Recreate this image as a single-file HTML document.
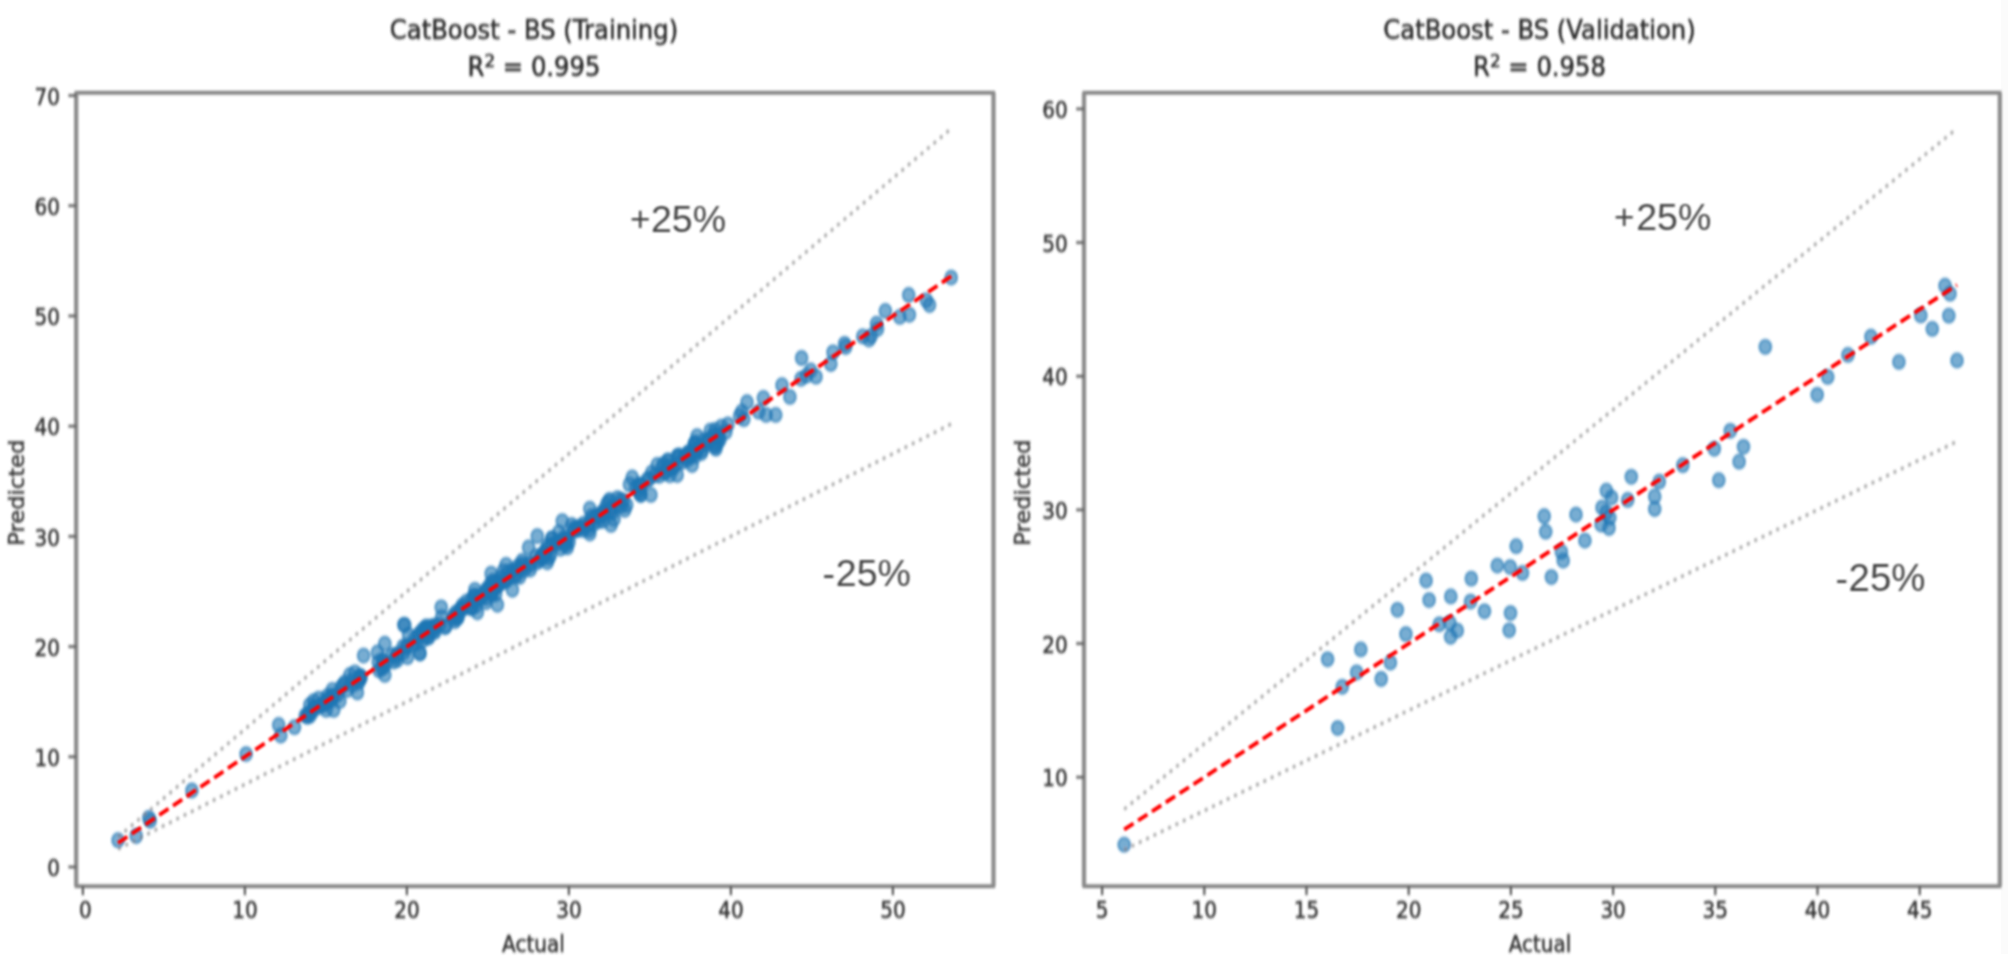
<!DOCTYPE html>
<html lang="en"><head><meta charset="utf-8"><title>CatBoost - BS</title>
<style>
html,body{margin:0;padding:0;background:#fff;}
body{width:2008px;height:961px;overflow:hidden;}
svg{display:block;}
.t10{font-family:"DejaVu Sans","Liberation Sans",sans-serif;font-size:10px;fill:#303030;stroke:#303030;stroke-width:0.22;}
.t12{font-family:"DejaVu Sans","Liberation Sans",sans-serif;font-size:12.15px;fill:#2c2c2c;stroke:#2c2c2c;stroke-width:0.27;}
.ann{font-family:"Liberation Sans",Arial,sans-serif;font-size:37.5px;fill:#444;}
.dot{fill:none;stroke:#808080;stroke-opacity:0.72;stroke-width:1.4;stroke-dasharray:1.5 2.475;}
.red{fill:none;stroke:#ff0000;stroke-width:1.75;stroke-dasharray:5.35 2.6;}
.pts ellipse{fill:#1f77b4;fill-opacity:0.6;stroke:#1f77b4;stroke-opacity:0.6;stroke-width:1;}
</style></head>
<body>
<svg width="2008" height="961" viewBox="0 0 2008 961">
<defs>
<filter id="soft" x="-2%" y="-2%" width="104%" height="104%" filterUnits="objectBoundingBox">
<feGaussianBlur stdDeviation="1.2 1.4"/>
</filter>
<filter id="soft3" x="-2%" y="-2%" width="104%" height="104%" filterUnits="objectBoundingBox">
<feGaussianBlur stdDeviation="0.9 1.0"/>
</filter>
<filter id="soft2" x="-2%" y="-2%" width="104%" height="104%" filterUnits="objectBoundingBox">
<feGaussianBlur stdDeviation="0.85 0.85"/>
</filter>
</defs>
<rect x="0" y="0" width="2008" height="961" fill="#ffffff"/>
<rect x="2001" y="0" width="7" height="954" fill="#fbfbfb"/>
<g filter="url(#soft)">
<rect x="-20" y="-20" width="1" height="1" fill="#fff"/><rect x="2027" y="980" width="1" height="1" fill="#fff"/>
<g transform="scale(2.0,2.33)">
<!-- left axes -->
<g class="pts">
<ellipse cx="59.00" cy="360.60" rx="3" ry="3"/>
<ellipse cx="68.10" cy="358.80" rx="3" ry="3"/>
<ellipse cx="74.40" cy="350.99" rx="3" ry="3"/>
<ellipse cx="75.10" cy="352.27" rx="3" ry="3"/>
<ellipse cx="95.95" cy="339.27" rx="3" ry="3"/>
<ellipse cx="123.05" cy="323.65" rx="3" ry="3"/>
<ellipse cx="139.35" cy="311.12" rx="3" ry="3"/>
<ellipse cx="140.40" cy="315.67" rx="3" ry="3"/>
<ellipse cx="147.25" cy="312.10" rx="3" ry="3"/>
<ellipse cx="153.75" cy="306.70" rx="3" ry="3"/>
<ellipse cx="154.90" cy="302.58" rx="3" ry="3"/>
<ellipse cx="156.85" cy="300.90" rx="3" ry="3"/>
<ellipse cx="159.35" cy="299.87" rx="3" ry="3"/>
<ellipse cx="163.10" cy="304.68" rx="3" ry="3"/>
<ellipse cx="166.85" cy="304.68" rx="3" ry="3"/>
<ellipse cx="163.70" cy="300.39" rx="3" ry="3"/>
<ellipse cx="166.20" cy="296.09" rx="3" ry="3"/>
<ellipse cx="168.70" cy="298.24" rx="3" ry="3"/>
<ellipse cx="169.95" cy="300.90" rx="3" ry="3"/>
<ellipse cx="172.45" cy="292.88" rx="3" ry="3"/>
<ellipse cx="173.70" cy="296.09" rx="3" ry="3"/>
<ellipse cx="174.95" cy="289.66" rx="3" ry="3"/>
<ellipse cx="177.45" cy="288.58" rx="3" ry="3"/>
<ellipse cx="178.70" cy="297.17" rx="3" ry="3"/>
<ellipse cx="179.30" cy="292.88" rx="3" ry="3"/>
<ellipse cx="179.95" cy="290.21" rx="3" ry="3"/>
<ellipse cx="181.80" cy="281.37" rx="3" ry="3"/>
<ellipse cx="188.70" cy="280.04" rx="3" ry="3"/>
<ellipse cx="192.40" cy="276.27" rx="3" ry="3"/>
<ellipse cx="191.15" cy="283.26" rx="3" ry="3"/>
<ellipse cx="192.40" cy="289.66" rx="3" ry="3"/>
<ellipse cx="191.80" cy="286.44" rx="3" ry="3"/>
<ellipse cx="196.15" cy="281.12" rx="3" ry="3"/>
<ellipse cx="198.65" cy="283.26" rx="3" ry="3"/>
<ellipse cx="201.80" cy="280.04" rx="3" ry="3"/>
<ellipse cx="202.40" cy="268.24" rx="3" ry="3"/>
<ellipse cx="204.30" cy="272.53" rx="3" ry="3"/>
<ellipse cx="206.15" cy="276.82" rx="3" ry="3"/>
<ellipse cx="209.90" cy="280.30" rx="3" ry="3"/>
<ellipse cx="210.50" cy="271.46" rx="3" ry="3"/>
<ellipse cx="213.65" cy="270.39" rx="3" ry="3"/>
<ellipse cx="217.40" cy="268.76" rx="3" ry="3"/>
<ellipse cx="223.00" cy="268.76" rx="3" ry="3"/>
<ellipse cx="227.40" cy="266.61" rx="3" ry="3"/>
<ellipse cx="201.85" cy="268.15" rx="3" ry="3"/>
<ellipse cx="220.60" cy="260.64" rx="3" ry="3"/>
<ellipse cx="237.45" cy="253.13" rx="3" ry="3"/>
<ellipse cx="245.55" cy="246.18" rx="3" ry="3"/>
<ellipse cx="253.05" cy="242.40" rx="3" ry="3"/>
<ellipse cx="264.30" cy="234.94" rx="3" ry="3"/>
<ellipse cx="268.65" cy="230.09" rx="3" ry="3"/>
<ellipse cx="276.15" cy="231.16" rx="3" ry="3"/>
<ellipse cx="281.15" cy="223.65" rx="3" ry="3"/>
<ellipse cx="294.90" cy="218.33" rx="3" ry="3"/>
<ellipse cx="304.85" cy="214.55" rx="3" ry="3"/>
<ellipse cx="316.10" cy="204.94" rx="3" ry="3"/>
<ellipse cx="328.60" cy="199.57" rx="3" ry="3"/>
<ellipse cx="338.60" cy="195.79" rx="3" ry="3"/>
<ellipse cx="347.30" cy="190.43" rx="3" ry="3"/>
<ellipse cx="210.00" cy="280.47" rx="3" ry="3"/>
<ellipse cx="203.75" cy="282.06" rx="3" ry="3"/>
<ellipse cx="222.45" cy="269.23" rx="3" ry="3"/>
<ellipse cx="238.70" cy="262.79" rx="3" ry="3"/>
<ellipse cx="248.70" cy="259.57" rx="3" ry="3"/>
<ellipse cx="243.05" cy="258.50" rx="3" ry="3"/>
<ellipse cx="256.20" cy="253.13" rx="3" ry="3"/>
<ellipse cx="273.65" cy="241.33" rx="3" ry="3"/>
<ellipse cx="268.65" cy="241.33" rx="3" ry="3"/>
<ellipse cx="283.65" cy="234.94" rx="3" ry="3"/>
<ellipse cx="294.90" cy="229.01" rx="3" ry="3"/>
<ellipse cx="305.50" cy="225.28" rx="3" ry="3"/>
<ellipse cx="307.00" cy="222.75" rx="3" ry="3"/>
<ellipse cx="312.35" cy="218.84" rx="3" ry="3"/>
<ellipse cx="325.45" cy="212.40" rx="3" ry="3"/>
<ellipse cx="338.60" cy="203.86" rx="3" ry="3"/>
<ellipse cx="346.05" cy="199.57" rx="3" ry="3"/>
<ellipse cx="357.95" cy="192.58" rx="3" ry="3"/>
<ellipse cx="475.60" cy="119.14" rx="3" ry="3"/>
<ellipse cx="454.35" cy="126.61" rx="3" ry="3"/>
<ellipse cx="463.15" cy="128.88" rx="3" ry="3"/>
<ellipse cx="464.75" cy="130.90" rx="3" ry="3"/>
<ellipse cx="454.70" cy="135.11" rx="3" ry="3"/>
<ellipse cx="449.90" cy="136.01" rx="3" ry="3"/>
<ellipse cx="442.70" cy="133.43" rx="3" ry="3"/>
<ellipse cx="438.25" cy="138.93" rx="3" ry="3"/>
<ellipse cx="438.75" cy="141.20" rx="3" ry="3"/>
<ellipse cx="435.60" cy="144.21" rx="3" ry="3"/>
<ellipse cx="431.35" cy="144.38" rx="3" ry="3"/>
<ellipse cx="434.50" cy="145.75" rx="3" ry="3"/>
<ellipse cx="422.30" cy="147.55" rx="3" ry="3"/>
<ellipse cx="422.85" cy="148.93" rx="3" ry="3"/>
<ellipse cx="416.50" cy="151.20" rx="3" ry="3"/>
<ellipse cx="415.40" cy="156.22" rx="3" ry="3"/>
<ellipse cx="400.80" cy="153.65" rx="3" ry="3"/>
<ellipse cx="405.35" cy="158.97" rx="3" ry="3"/>
<ellipse cx="408.00" cy="161.67" rx="3" ry="3"/>
<ellipse cx="403.20" cy="161.24" rx="3" ry="3"/>
<ellipse cx="400.55" cy="162.58" rx="3" ry="3"/>
<ellipse cx="391.00" cy="165.32" rx="3" ry="3"/>
<ellipse cx="394.95" cy="170.34" rx="3" ry="3"/>
<ellipse cx="381.70" cy="170.77" rx="3" ry="3"/>
<ellipse cx="387.85" cy="178.07" rx="3" ry="3"/>
<ellipse cx="383.05" cy="178.07" rx="3" ry="3"/>
<ellipse cx="379.35" cy="176.70" rx="3" ry="3"/>
<ellipse cx="373.50" cy="172.62" rx="3" ry="3"/>
<ellipse cx="370.85" cy="176.70" rx="3" ry="3"/>
<ellipse cx="371.90" cy="179.91" rx="3" ry="3"/>
<ellipse cx="369.80" cy="178.54" rx="3" ry="3"/>
<ellipse cx="363.95" cy="182.19" rx="3" ry="3"/>
<ellipse cx="360.75" cy="183.09" rx="3" ry="3"/>
<ellipse cx="357.60" cy="184.46" rx="3" ry="3"/>
<ellipse cx="362.90" cy="185.36" rx="3" ry="3"/>
<ellipse cx="357.60" cy="191.76" rx="3" ry="3"/>
<ellipse cx="348.55" cy="187.17" rx="3" ry="3"/>
<ellipse cx="347.50" cy="189.91" rx="3" ry="3"/>
<ellipse cx="349.65" cy="191.76" rx="3" ry="3"/>
<ellipse cx="350.70" cy="194.46" rx="3" ry="3"/>
<ellipse cx="345.90" cy="193.56" rx="3" ry="3"/>
<ellipse cx="343.80" cy="195.84" rx="3" ry="3"/>
<ellipse cx="339.55" cy="195.84" rx="3" ry="3"/>
<ellipse cx="334.25" cy="197.68" rx="3" ry="3"/>
<ellipse cx="269.72" cy="240.37" rx="3" ry="3"/>
<ellipse cx="235.78" cy="260.80" rx="3" ry="3"/>
<ellipse cx="298.34" cy="221.66" rx="3" ry="3"/>
<ellipse cx="294.50" cy="224.81" rx="3" ry="3"/>
<ellipse cx="231.06" cy="260.74" rx="3" ry="3"/>
<ellipse cx="238.25" cy="257.47" rx="3" ry="3"/>
<ellipse cx="283.31" cy="231.31" rx="3" ry="3"/>
<ellipse cx="256.14" cy="245.89" rx="3" ry="3"/>
<ellipse cx="310.70" cy="217.16" rx="3" ry="3"/>
<ellipse cx="279.55" cy="232.28" rx="3" ry="3"/>
<ellipse cx="357.79" cy="190.87" rx="3" ry="3"/>
<ellipse cx="265.10" cy="242.56" rx="3" ry="3"/>
<ellipse cx="245.47" cy="254.13" rx="3" ry="3"/>
<ellipse cx="336.18" cy="201.06" rx="3" ry="3"/>
<ellipse cx="250.40" cy="247.79" rx="3" ry="3"/>
<ellipse cx="276.27" cy="233.68" rx="3" ry="3"/>
<ellipse cx="299.95" cy="221.75" rx="3" ry="3"/>
<ellipse cx="253.80" cy="248.35" rx="3" ry="3"/>
<ellipse cx="317.85" cy="209.26" rx="3" ry="3"/>
<ellipse cx="305.05" cy="218.88" rx="3" ry="3"/>
<ellipse cx="287.18" cy="227.60" rx="3" ry="3"/>
<ellipse cx="320.36" cy="212.35" rx="3" ry="3"/>
<ellipse cx="258.95" cy="243.08" rx="3" ry="3"/>
<ellipse cx="344.14" cy="194.33" rx="3" ry="3"/>
<ellipse cx="324.48" cy="205.61" rx="3" ry="3"/>
<ellipse cx="282.45" cy="231.42" rx="3" ry="3"/>
<ellipse cx="292.01" cy="224.73" rx="3" ry="3"/>
<ellipse cx="231.29" cy="259.70" rx="3" ry="3"/>
<ellipse cx="303.36" cy="216.43" rx="3" ry="3"/>
<ellipse cx="344.19" cy="194.21" rx="3" ry="3"/>
<ellipse cx="306.24" cy="220.10" rx="3" ry="3"/>
<ellipse cx="304.29" cy="215.22" rx="3" ry="3"/>
<ellipse cx="353.53" cy="190.82" rx="3" ry="3"/>
<ellipse cx="290.00" cy="226.62" rx="3" ry="3"/>
<ellipse cx="320.70" cy="208.47" rx="3" ry="3"/>
<ellipse cx="313.36" cy="216.74" rx="3" ry="3"/>
<ellipse cx="264.42" cy="241.75" rx="3" ry="3"/>
<ellipse cx="278.08" cy="233.73" rx="3" ry="3"/>
<ellipse cx="288.33" cy="227.59" rx="3" ry="3"/>
<ellipse cx="248.69" cy="251.56" rx="3" ry="3"/>
<ellipse cx="329.71" cy="204.20" rx="3" ry="3"/>
<ellipse cx="243.46" cy="254.17" rx="3" ry="3"/>
<ellipse cx="343.64" cy="197.47" rx="3" ry="3"/>
<ellipse cx="236.88" cy="255.77" rx="3" ry="3"/>
<ellipse cx="345.26" cy="195.42" rx="3" ry="3"/>
<ellipse cx="336.60" cy="200.73" rx="3" ry="3"/>
<ellipse cx="282.07" cy="230.47" rx="3" ry="3"/>
<ellipse cx="274.43" cy="239.52" rx="3" ry="3"/>
<ellipse cx="246.37" cy="249.35" rx="3" ry="3"/>
<ellipse cx="249.79" cy="250.59" rx="3" ry="3"/>
<ellipse cx="291.47" cy="227.44" rx="3" ry="3"/>
<ellipse cx="305.53" cy="217.88" rx="3" ry="3"/>
<ellipse cx="282.56" cy="231.47" rx="3" ry="3"/>
<ellipse cx="275.85" cy="231.05" rx="3" ry="3"/>
<ellipse cx="319.22" cy="208.05" rx="3" ry="3"/>
<ellipse cx="295.59" cy="221.65" rx="3" ry="3"/>
<ellipse cx="233.29" cy="258.21" rx="3" ry="3"/>
<ellipse cx="347.44" cy="194.12" rx="3" ry="3"/>
<ellipse cx="333.71" cy="197.74" rx="3" ry="3"/>
<ellipse cx="278.97" cy="232.71" rx="3" ry="3"/>
<ellipse cx="311.63" cy="214.84" rx="3" ry="3"/>
<ellipse cx="234.40" cy="260.58" rx="3" ry="3"/>
<ellipse cx="247.91" cy="252.06" rx="3" ry="3"/>
<ellipse cx="271.91" cy="237.56" rx="3" ry="3"/>
<ellipse cx="246.42" cy="252.42" rx="3" ry="3"/>
<ellipse cx="239.70" cy="256.06" rx="3" ry="3"/>
<ellipse cx="344.03" cy="195.72" rx="3" ry="3"/>
<ellipse cx="308.90" cy="216.76" rx="3" ry="3"/>
<ellipse cx="272.90" cy="238.08" rx="3" ry="3"/>
<ellipse cx="275.16" cy="238.20" rx="3" ry="3"/>
<ellipse cx="360.07" cy="188.55" rx="3" ry="3"/>
<ellipse cx="288.91" cy="226.82" rx="3" ry="3"/>
<ellipse cx="239.80" cy="256.36" rx="3" ry="3"/>
<ellipse cx="272.26" cy="237.00" rx="3" ry="3"/>
<ellipse cx="247.79" cy="255.06" rx="3" ry="3"/>
<ellipse cx="229.12" cy="264.67" rx="3" ry="3"/>
<ellipse cx="245.79" cy="252.09" rx="3" ry="3"/>
<ellipse cx="299.33" cy="223.74" rx="3" ry="3"/>
<ellipse cx="358.10" cy="187.58" rx="3" ry="3"/>
<ellipse cx="342.55" cy="195.80" rx="3" ry="3"/>
<ellipse cx="275.50" cy="234.07" rx="3" ry="3"/>
<ellipse cx="248.55" cy="251.48" rx="3" ry="3"/>
<ellipse cx="331.17" cy="200.66" rx="3" ry="3"/>
<ellipse cx="270.50" cy="238.91" rx="3" ry="3"/>
<ellipse cx="358.97" cy="190.01" rx="3" ry="3"/>
<ellipse cx="341.10" cy="198.29" rx="3" ry="3"/>
<ellipse cx="325.88" cy="202.81" rx="3" ry="3"/>
<ellipse cx="256.61" cy="244.74" rx="3" ry="3"/>
<ellipse cx="229.91" cy="261.86" rx="3" ry="3"/>
<ellipse cx="229.77" cy="261.87" rx="3" ry="3"/>
<ellipse cx="319.49" cy="211.14" rx="3" ry="3"/>
<ellipse cx="355.13" cy="184.82" rx="3" ry="3"/>
<ellipse cx="359.39" cy="187.86" rx="3" ry="3"/>
<ellipse cx="354.93" cy="188.19" rx="3" ry="3"/>
<ellipse cx="256.62" cy="247.43" rx="3" ry="3"/>
<ellipse cx="252.56" cy="249.56" rx="3" ry="3"/>
<ellipse cx="347.54" cy="195.84" rx="3" ry="3"/>
<ellipse cx="339.46" cy="195.42" rx="3" ry="3"/>
<ellipse cx="333.95" cy="201.64" rx="3" ry="3"/>
<ellipse cx="237.45" cy="255.49" rx="3" ry="3"/>
<ellipse cx="331.61" cy="199.24" rx="3" ry="3"/>
<ellipse cx="327.27" cy="204.05" rx="3" ry="3"/>
<ellipse cx="332.53" cy="202.28" rx="3" ry="3"/>
<ellipse cx="270.89" cy="239.67" rx="3" ry="3"/>
<ellipse cx="279.44" cy="228.45" rx="3" ry="3"/>
<ellipse cx="280.19" cy="235.49" rx="3" ry="3"/>
<ellipse cx="248.95" cy="249.96" rx="3" ry="3"/>
<ellipse cx="243.15" cy="256.65" rx="3" ry="3"/>
<ellipse cx="334.88" cy="204.01" rx="3" ry="3"/>
<ellipse cx="245.73" cy="255.20" rx="3" ry="3"/>
<ellipse cx="314.73" cy="207.93" rx="3" ry="3"/>
<ellipse cx="273.31" cy="235.78" rx="3" ry="3"/>
<ellipse cx="227.92" cy="262.92" rx="3" ry="3"/>
<ellipse cx="357.07" cy="186.46" rx="3" ry="3"/>
<ellipse cx="352.04" cy="188.91" rx="3" ry="3"/>
<ellipse cx="284.56" cy="232.53" rx="3" ry="3"/>
<ellipse cx="254.49" cy="245.21" rx="3" ry="3"/>
<ellipse cx="260.00" cy="244.12" rx="3" ry="3"/>
<ellipse cx="305.17" cy="219.42" rx="3" ry="3"/>
<ellipse cx="261.01" cy="243.03" rx="3" ry="3"/>
<ellipse cx="348.85" cy="193.07" rx="3" ry="3"/>
<ellipse cx="273.76" cy="234.09" rx="3" ry="3"/>
<ellipse cx="348.08" cy="193.68" rx="3" ry="3"/>
<ellipse cx="282.78" cy="233.07" rx="3" ry="3"/>
<ellipse cx="297.80" cy="221.33" rx="3" ry="3"/>
<ellipse cx="296.67" cy="225.04" rx="3" ry="3"/>
<ellipse cx="250.72" cy="250.13" rx="3" ry="3"/>
<ellipse cx="226.53" cy="264.37" rx="3" ry="3"/>
<ellipse cx="289.92" cy="225.93" rx="3" ry="3"/>
<ellipse cx="323.90" cy="205.63" rx="3" ry="3"/>
<ellipse cx="295.98" cy="222.90" rx="3" ry="3"/>
<ellipse cx="300.98" cy="220.73" rx="3" ry="3"/>
<ellipse cx="301.64" cy="219.31" rx="3" ry="3"/>
<ellipse cx="259.55" cy="244.21" rx="3" ry="3"/>
<ellipse cx="294.54" cy="227.44" rx="3" ry="3"/>
<ellipse cx="301.83" cy="220.31" rx="3" ry="3"/>
<ellipse cx="285.84" cy="225.33" rx="3" ry="3"/>
<ellipse cx="308.69" cy="213.84" rx="3" ry="3"/>
<ellipse cx="319.52" cy="209.65" rx="3" ry="3"/>
<ellipse cx="287.07" cy="226.62" rx="3" ry="3"/>
<ellipse cx="353.10" cy="189.67" rx="3" ry="3"/>
<ellipse cx="320.39" cy="212.36" rx="3" ry="3"/>
<ellipse cx="261.04" cy="240.78" rx="3" ry="3"/>
<ellipse cx="301.53" cy="223.54" rx="3" ry="3"/>
<ellipse cx="244.51" cy="252.29" rx="3" ry="3"/>
<ellipse cx="242.42" cy="254.08" rx="3" ry="3"/>
<ellipse cx="258.49" cy="245.62" rx="3" ry="3"/>
<ellipse cx="235.87" cy="257.00" rx="3" ry="3"/>
<ellipse cx="347.10" cy="190.79" rx="3" ry="3"/>
<ellipse cx="246.85" cy="251.59" rx="3" ry="3"/>
<ellipse cx="245.30" cy="250.41" rx="3" ry="3"/>
<ellipse cx="345.18" cy="196.01" rx="3" ry="3"/>
<ellipse cx="354.59" cy="188.98" rx="3" ry="3"/>
<ellipse cx="338.38" cy="199.16" rx="3" ry="3"/>
<ellipse cx="247.80" cy="249.59" rx="3" ry="3"/>
<ellipse cx="271.78" cy="238.53" rx="3" ry="3"/>
<ellipse cx="252.43" cy="247.67" rx="3" ry="3"/>
<ellipse cx="228.63" cy="265.48" rx="3" ry="3"/>
<ellipse cx="300.80" cy="220.33" rx="3" ry="3"/>
<ellipse cx="270.75" cy="238.33" rx="3" ry="3"/>
<ellipse cx="310.23" cy="214.48" rx="3" ry="3"/>
<ellipse cx="358.99" cy="186.62" rx="3" ry="3"/>
<ellipse cx="332.43" cy="203.04" rx="3" ry="3"/>
<ellipse cx="261.85" cy="243.24" rx="3" ry="3"/>
<ellipse cx="231.34" cy="261.48" rx="3" ry="3"/>
<ellipse cx="243.49" cy="252.68" rx="3" ry="3"/>
<ellipse cx="283.00" cy="233.94" rx="3" ry="3"/>
<ellipse cx="260.91" cy="242.14" rx="3" ry="3"/>
<ellipse cx="246.16" cy="254.66" rx="3" ry="3"/>
<ellipse cx="320.56" cy="207.95" rx="3" ry="3"/>
<ellipse cx="238.08" cy="259.92" rx="3" ry="3"/>
<ellipse cx="283.42" cy="231.80" rx="3" ry="3"/>
<ellipse cx="235.78" cy="261.05" rx="3" ry="3"/>
<ellipse cx="334.22" cy="200.15" rx="3" ry="3"/>
<ellipse cx="237.31" cy="258.16" rx="3" ry="3"/>
<ellipse cx="342.47" cy="195.78" rx="3" ry="3"/>
<ellipse cx="287.26" cy="227.32" rx="3" ry="3"/>
<ellipse cx="351.10" cy="193.27" rx="3" ry="3"/>
<ellipse cx="262.16" cy="244.77" rx="3" ry="3"/>
<ellipse cx="258.19" cy="247.18" rx="3" ry="3"/>
<ellipse cx="240.78" cy="256.02" rx="3" ry="3"/>
<ellipse cx="253.24" cy="248.93" rx="3" ry="3"/>
<ellipse cx="268.12" cy="238.68" rx="3" ry="3"/>
<ellipse cx="265.14" cy="244.41" rx="3" ry="3"/>
<ellipse cx="293.51" cy="225.66" rx="3" ry="3"/>
<ellipse cx="228.45" cy="264.43" rx="3" ry="3"/>
<ellipse cx="259.81" cy="247.58" rx="3" ry="3"/>
<ellipse cx="300.39" cy="221.18" rx="3" ry="3"/>
<ellipse cx="251.58" cy="245.14" rx="3" ry="3"/>
<ellipse cx="240.35" cy="256.64" rx="3" ry="3"/>
<ellipse cx="175.84" cy="292.26" rx="3" ry="3"/>
<ellipse cx="176.29" cy="293.99" rx="3" ry="3"/>
<ellipse cx="163.70" cy="298.75" rx="3" ry="3"/>
<ellipse cx="180.50" cy="290.82" rx="3" ry="3"/>
<ellipse cx="162.27" cy="302.55" rx="3" ry="3"/>
<ellipse cx="170.63" cy="294.92" rx="3" ry="3"/>
<ellipse cx="164.03" cy="300.27" rx="3" ry="3"/>
<ellipse cx="156.20" cy="305.45" rx="3" ry="3"/>
<ellipse cx="154.52" cy="306.02" rx="3" ry="3"/>
<ellipse cx="157.15" cy="303.55" rx="3" ry="3"/>
<ellipse cx="154.91" cy="307.26" rx="3" ry="3"/>
<ellipse cx="171.61" cy="293.91" rx="3" ry="3"/>
<ellipse cx="160.54" cy="302.62" rx="3" ry="3"/>
<ellipse cx="165.59" cy="300.68" rx="3" ry="3"/>
<ellipse cx="156.99" cy="303.68" rx="3" ry="3"/>
<ellipse cx="179.91" cy="291.58" rx="3" ry="3"/>
<ellipse cx="180.22" cy="290.15" rx="3" ry="3"/>
<ellipse cx="180.02" cy="290.90" rx="3" ry="3"/>
<ellipse cx="161.32" cy="302.07" rx="3" ry="3"/>
<ellipse cx="163.38" cy="300.95" rx="3" ry="3"/>
<ellipse cx="166.03" cy="298.49" rx="3" ry="3"/>
<ellipse cx="166.88" cy="298.84" rx="3" ry="3"/>
<ellipse cx="152.64" cy="307.12" rx="3" ry="3"/>
<ellipse cx="163.89" cy="301.16" rx="3" ry="3"/>
<ellipse cx="153.69" cy="307.65" rx="3" ry="3"/>
<ellipse cx="159.14" cy="303.53" rx="3" ry="3"/>
<ellipse cx="211.54" cy="270.10" rx="3" ry="3"/>
<ellipse cx="214.32" cy="270.66" rx="3" ry="3"/>
<ellipse cx="216.57" cy="271.02" rx="3" ry="3"/>
<ellipse cx="201.56" cy="277.49" rx="3" ry="3"/>
<ellipse cx="226.91" cy="265.35" rx="3" ry="3"/>
<ellipse cx="213.76" cy="273.59" rx="3" ry="3"/>
<ellipse cx="190.69" cy="286.71" rx="3" ry="3"/>
<ellipse cx="213.15" cy="268.88" rx="3" ry="3"/>
<ellipse cx="217.25" cy="269.78" rx="3" ry="3"/>
<ellipse cx="209.16" cy="273.34" rx="3" ry="3"/>
<ellipse cx="208.42" cy="276.10" rx="3" ry="3"/>
<ellipse cx="220.82" cy="264.82" rx="3" ry="3"/>
<ellipse cx="211.49" cy="274.74" rx="3" ry="3"/>
<ellipse cx="215.69" cy="268.81" rx="3" ry="3"/>
<ellipse cx="197.85" cy="281.63" rx="3" ry="3"/>
<ellipse cx="202.89" cy="278.00" rx="3" ry="3"/>
<ellipse cx="193.04" cy="284.65" rx="3" ry="3"/>
<ellipse cx="213.17" cy="270.04" rx="3" ry="3"/>
<ellipse cx="213.11" cy="271.06" rx="3" ry="3"/>
<ellipse cx="189.13" cy="284.15" rx="3" ry="3"/>
<ellipse cx="219.71" cy="267.99" rx="3" ry="3"/>
<ellipse cx="209.61" cy="271.98" rx="3" ry="3"/>
<ellipse cx="214.38" cy="273.56" rx="3" ry="3"/>
<ellipse cx="198.71" cy="281.34" rx="3" ry="3"/>
<ellipse cx="191.87" cy="284.01" rx="3" ry="3"/>
<ellipse cx="196.90" cy="283.95" rx="3" ry="3"/>
<ellipse cx="217.48" cy="271.19" rx="3" ry="3"/>
<ellipse cx="203.73" cy="277.05" rx="3" ry="3"/>
<ellipse cx="207.44" cy="274.04" rx="3" ry="3"/>
<ellipse cx="212.75" cy="269.52" rx="3" ry="3"/>
<ellipse cx="213.75" cy="272.30" rx="3" ry="3"/>
<ellipse cx="198.78" cy="280.66" rx="3" ry="3"/>
<ellipse cx="217.61" cy="268.52" rx="3" ry="3"/>
<ellipse cx="189.48" cy="287.65" rx="3" ry="3"/>
</g>
<path d="M59.03,359.27 L476.01,54.89" class="dot"/>
<path d="M59.03,364.40 L476.01,181.78" class="dot"/>
<path d="M38.10,39.79H496.75M38.10,380.39H496.75" fill="none" stroke="#747474" stroke-width="1.55" stroke-linecap="square"/>
<path d="M38.10,39.79V380.39M496.75,39.79V380.39" fill="none" stroke="#8e8e8e" stroke-width="2.15" stroke-linecap="butt"/>
<line x1="41.45" x2="41.45" y1="380.39" y2="384.19" stroke="#555" stroke-width="1.1"/>
<text transform="translate(42.65,393.89) scale(1,0.95)" text-anchor="middle" class="t10">0</text>
<line x1="122.45" x2="122.45" y1="380.39" y2="384.19" stroke="#555" stroke-width="1.1"/>
<text transform="translate(122.45,393.89) scale(1,0.95)" text-anchor="middle" class="t10">10</text>
<line x1="203.45" x2="203.45" y1="380.39" y2="384.19" stroke="#555" stroke-width="1.1"/>
<text transform="translate(203.45,393.89) scale(1,0.95)" text-anchor="middle" class="t10">20</text>
<line x1="284.45" x2="284.45" y1="380.39" y2="384.19" stroke="#555" stroke-width="1.1"/>
<text transform="translate(284.45,393.89) scale(1,0.95)" text-anchor="middle" class="t10">30</text>
<line x1="365.45" x2="365.45" y1="380.39" y2="384.19" stroke="#555" stroke-width="1.1"/>
<text transform="translate(365.45,393.89) scale(1,0.95)" text-anchor="middle" class="t10">40</text>
<line x1="446.45" x2="446.45" y1="380.39" y2="384.19" stroke="#555" stroke-width="1.1"/>
<text transform="translate(446.45,393.89) scale(1,0.95)" text-anchor="middle" class="t10">50</text>
<line x1="34.20" x2="38.10" y1="372.10" y2="372.10" stroke="#555" stroke-width="1.1"/>
<text transform="translate(30.00,376.05) scale(1,0.95)" text-anchor="end" class="t10">0</text>
<line x1="34.20" x2="38.10" y1="324.80" y2="324.80" stroke="#555" stroke-width="1.1"/>
<text transform="translate(30.00,328.75) scale(1,0.95)" text-anchor="end" class="t10">10</text>
<line x1="34.20" x2="38.10" y1="277.50" y2="277.50" stroke="#555" stroke-width="1.1"/>
<text transform="translate(30.00,281.45) scale(1,0.95)" text-anchor="end" class="t10">20</text>
<line x1="34.20" x2="38.10" y1="230.20" y2="230.20" stroke="#555" stroke-width="1.1"/>
<text transform="translate(30.00,234.15) scale(1,0.95)" text-anchor="end" class="t10">30</text>
<line x1="34.20" x2="38.10" y1="182.90" y2="182.90" stroke="#555" stroke-width="1.1"/>
<text transform="translate(30.00,186.85) scale(1,0.95)" text-anchor="end" class="t10">40</text>
<line x1="34.20" x2="38.10" y1="135.60" y2="135.60" stroke="#555" stroke-width="1.1"/>
<text transform="translate(30.00,139.55) scale(1,0.95)" text-anchor="end" class="t10">50</text>
<line x1="34.20" x2="38.10" y1="88.30" y2="88.30" stroke="#555" stroke-width="1.1"/>
<text transform="translate(30.00,92.25) scale(1,0.95)" text-anchor="end" class="t10">60</text>
<line x1="34.20" x2="38.10" y1="41.00" y2="41.00" stroke="#555" stroke-width="1.1"/>
<text transform="translate(30.00,44.95) scale(1,0.95)" text-anchor="end" class="t10">70</text>
<text transform="translate(267.00,16.87) scale(1,0.91)" text-anchor="middle" class="t12">CatBoost - BS (Training)</text>
<text transform="translate(267.00,32.79) scale(1,0.91)" text-anchor="middle" class="t12">R<tspan dy="-4.6" font-size="8.4">2</tspan><tspan dy="4.6"> = 0.995</tspan></text>
<text transform="translate(266.70,408.41) scale(1,0.95)" text-anchor="middle" class="t10">Actual</text>
<text transform="translate(11.80,211.46) rotate(-90) scale(0.97,1.1)" text-anchor="middle" class="t10">Predicted</text>
<!-- right axes -->
<g class="pts">
<ellipse cx="562.10" cy="362.53" rx="3" ry="3"/>
<ellipse cx="668.85" cy="312.49" rx="3" ry="3"/>
<ellipse cx="663.80" cy="282.96" rx="3" ry="3"/>
<ellipse cx="680.40" cy="278.71" rx="3" ry="3"/>
<ellipse cx="678.30" cy="288.58" rx="3" ry="3"/>
<ellipse cx="671.15" cy="294.76" rx="3" ry="3"/>
<ellipse cx="690.60" cy="291.42" rx="3" ry="3"/>
<ellipse cx="695.20" cy="284.38" rx="3" ry="3"/>
<ellipse cx="698.70" cy="261.72" rx="3" ry="3"/>
<ellipse cx="702.95" cy="272.15" rx="3" ry="3"/>
<ellipse cx="713.05" cy="249.18" rx="3" ry="3"/>
<ellipse cx="714.55" cy="257.55" rx="3" ry="3"/>
<ellipse cx="719.65" cy="267.94" rx="3" ry="3"/>
<ellipse cx="725.40" cy="255.97" rx="3" ry="3"/>
<ellipse cx="724.90" cy="267.30" rx="3" ry="3"/>
<ellipse cx="725.30" cy="273.30" rx="3" ry="3"/>
<ellipse cx="728.65" cy="270.64" rx="3" ry="3"/>
<ellipse cx="735.25" cy="258.20" rx="3" ry="3"/>
<ellipse cx="735.65" cy="248.33" rx="3" ry="3"/>
<ellipse cx="742.25" cy="262.36" rx="3" ry="3"/>
<ellipse cx="748.65" cy="242.75" rx="3" ry="3"/>
<ellipse cx="755.10" cy="243.39" rx="3" ry="3"/>
<ellipse cx="755.25" cy="263.13" rx="3" ry="3"/>
<ellipse cx="754.60" cy="270.52" rx="3" ry="3"/>
<ellipse cx="758.10" cy="234.42" rx="3" ry="3"/>
<ellipse cx="761.25" cy="245.88" rx="3" ry="3"/>
<ellipse cx="772.10" cy="221.55" rx="3" ry="3"/>
<ellipse cx="772.85" cy="228.20" rx="3" ry="3"/>
<ellipse cx="775.70" cy="247.68" rx="3" ry="3"/>
<ellipse cx="780.70" cy="236.87" rx="3" ry="3"/>
<ellipse cx="781.60" cy="240.60" rx="3" ry="3"/>
<ellipse cx="788.00" cy="220.86" rx="3" ry="3"/>
<ellipse cx="792.45" cy="232.02" rx="3" ry="3"/>
<ellipse cx="803.20" cy="210.60" rx="3" ry="3"/>
<ellipse cx="805.80" cy="213.56" rx="3" ry="3"/>
<ellipse cx="801.00" cy="217.85" rx="3" ry="3"/>
<ellipse cx="803.15" cy="219.91" rx="3" ry="3"/>
<ellipse cx="804.90" cy="222.19" rx="3" ry="3"/>
<ellipse cx="800.55" cy="225.11" rx="3" ry="3"/>
<ellipse cx="804.50" cy="226.61" rx="3" ry="3"/>
<ellipse cx="813.85" cy="214.55" rx="3" ry="3"/>
<ellipse cx="815.65" cy="204.64" rx="3" ry="3"/>
<ellipse cx="827.35" cy="213.05" rx="3" ry="3"/>
<ellipse cx="827.35" cy="218.45" rx="3" ry="3"/>
<ellipse cx="829.65" cy="206.70" rx="3" ry="3"/>
<ellipse cx="841.40" cy="199.66" rx="3" ry="3"/>
<ellipse cx="857.15" cy="192.62" rx="3" ry="3"/>
<ellipse cx="859.40" cy="206.09" rx="3" ry="3"/>
<ellipse cx="865.15" cy="184.89" rx="3" ry="3"/>
<ellipse cx="869.55" cy="198.15" rx="3" ry="3"/>
<ellipse cx="871.75" cy="191.76" rx="3" ry="3"/>
<ellipse cx="882.65" cy="148.88" rx="3" ry="3"/>
<ellipse cx="908.60" cy="169.44" rx="3" ry="3"/>
<ellipse cx="913.85" cy="161.76" rx="3" ry="3"/>
<ellipse cx="923.95" cy="152.32" rx="3" ry="3"/>
<ellipse cx="935.45" cy="144.51" rx="3" ry="3"/>
<ellipse cx="949.45" cy="155.32" rx="3" ry="3"/>
<ellipse cx="960.40" cy="135.36" rx="3" ry="3"/>
<ellipse cx="966.15" cy="141.16" rx="3" ry="3"/>
<ellipse cx="972.50" cy="122.62" rx="3" ry="3"/>
<ellipse cx="975.00" cy="126.05" rx="3" ry="3"/>
<ellipse cx="974.40" cy="135.49" rx="3" ry="3"/>
<ellipse cx="978.50" cy="154.68" rx="3" ry="3"/>
</g>
<path d="M562.09,347.33 L978.45,55.20" class="dot"/>
<path d="M562.09,364.77 L978.45,189.49" class="dot"/>
<path d="M542.00,39.79H999.90M542.00,380.39H999.90" fill="none" stroke="#747474" stroke-width="1.55" stroke-linecap="square"/>
<path d="M542.00,39.79V380.39M999.90,39.79V380.39" fill="none" stroke="#8e8e8e" stroke-width="2.15" stroke-linecap="butt"/>
<line x1="551.05" x2="551.05" y1="380.39" y2="384.19" stroke="#555" stroke-width="1.1"/>
<text transform="translate(551.05,393.89) scale(1,0.95)" text-anchor="middle" class="t10">5</text>
<line x1="602.15" x2="602.15" y1="380.39" y2="384.19" stroke="#555" stroke-width="1.1"/>
<text transform="translate(602.15,393.89) scale(1,0.95)" text-anchor="middle" class="t10">10</text>
<line x1="653.25" x2="653.25" y1="380.39" y2="384.19" stroke="#555" stroke-width="1.1"/>
<text transform="translate(653.25,393.89) scale(1,0.95)" text-anchor="middle" class="t10">15</text>
<line x1="704.35" x2="704.35" y1="380.39" y2="384.19" stroke="#555" stroke-width="1.1"/>
<text transform="translate(704.35,393.89) scale(1,0.95)" text-anchor="middle" class="t10">20</text>
<line x1="755.45" x2="755.45" y1="380.39" y2="384.19" stroke="#555" stroke-width="1.1"/>
<text transform="translate(755.45,393.89) scale(1,0.95)" text-anchor="middle" class="t10">25</text>
<line x1="806.55" x2="806.55" y1="380.39" y2="384.19" stroke="#555" stroke-width="1.1"/>
<text transform="translate(806.55,393.89) scale(1,0.95)" text-anchor="middle" class="t10">30</text>
<line x1="857.65" x2="857.65" y1="380.39" y2="384.19" stroke="#555" stroke-width="1.1"/>
<text transform="translate(857.65,393.89) scale(1,0.95)" text-anchor="middle" class="t10">35</text>
<line x1="908.75" x2="908.75" y1="380.39" y2="384.19" stroke="#555" stroke-width="1.1"/>
<text transform="translate(908.75,393.89) scale(1,0.95)" text-anchor="middle" class="t10">40</text>
<line x1="959.85" x2="959.85" y1="380.39" y2="384.19" stroke="#555" stroke-width="1.1"/>
<text transform="translate(959.85,393.89) scale(1,0.95)" text-anchor="middle" class="t10">45</text>
<line x1="538.10" x2="542.00" y1="333.56" y2="333.56" stroke="#555" stroke-width="1.1"/>
<text transform="translate(533.90,337.51) scale(1,0.95)" text-anchor="end" class="t10">10</text>
<line x1="538.10" x2="542.00" y1="276.20" y2="276.20" stroke="#555" stroke-width="1.1"/>
<text transform="translate(533.90,280.15) scale(1,0.95)" text-anchor="end" class="t10">20</text>
<line x1="538.10" x2="542.00" y1="218.83" y2="218.83" stroke="#555" stroke-width="1.1"/>
<text transform="translate(533.90,222.78) scale(1,0.95)" text-anchor="end" class="t10">30</text>
<line x1="538.10" x2="542.00" y1="161.47" y2="161.47" stroke="#555" stroke-width="1.1"/>
<text transform="translate(533.90,165.42) scale(1,0.95)" text-anchor="end" class="t10">40</text>
<line x1="538.10" x2="542.00" y1="104.10" y2="104.10" stroke="#555" stroke-width="1.1"/>
<text transform="translate(533.90,108.05) scale(1,0.95)" text-anchor="end" class="t10">50</text>
<line x1="538.10" x2="542.00" y1="46.74" y2="46.74" stroke="#555" stroke-width="1.1"/>
<text transform="translate(533.90,50.69) scale(1,0.95)" text-anchor="end" class="t10">60</text>
<text transform="translate(769.75,16.87) scale(1,0.91)" text-anchor="middle" class="t12">CatBoost - BS (Validation)</text>
<text transform="translate(769.75,32.79) scale(1,0.91)" text-anchor="middle" class="t12">R<tspan dy="-4.6" font-size="8.4">2</tspan><tspan dy="4.6"> = 0.958</tspan></text>
<text transform="translate(770.00,408.41) scale(1,0.95)" text-anchor="middle" class="t10">Actual</text>
<text transform="translate(515.15,211.46) rotate(-90) scale(0.97,1.1)" text-anchor="middle" class="t10">Predicted</text>
</g>
</g>
<g filter="url(#soft3)"><g transform="scale(2.0,2.33)">
<path d="M59.03,361.84 L476.01,118.34" class="red"/>
<path d="M562.09,356.05 L978.45,122.35" class="red"/>
</g></g>
<g filter="url(#soft2)">
<text x="630.0" y="231.8" class="ann"><tspan font-size="35" dy="-0.9">+</tspan><tspan dy="0.9" x="651.0">25%</tspan></text>
<text x="822.6" y="586.2" class="ann">-<tspan x="835.8">25%</tspan></text>
<text x="1614.0" y="229.6" class="ann"><tspan font-size="35" dy="-0.9">+</tspan><tspan dy="0.9" x="1636.2">25%</tspan></text>
<text x="1835.4" y="590.8" class="ann">-<tspan x="1848.6" font-size="38.4">25%</tspan></text>
</g>
</svg>
</body></html>
